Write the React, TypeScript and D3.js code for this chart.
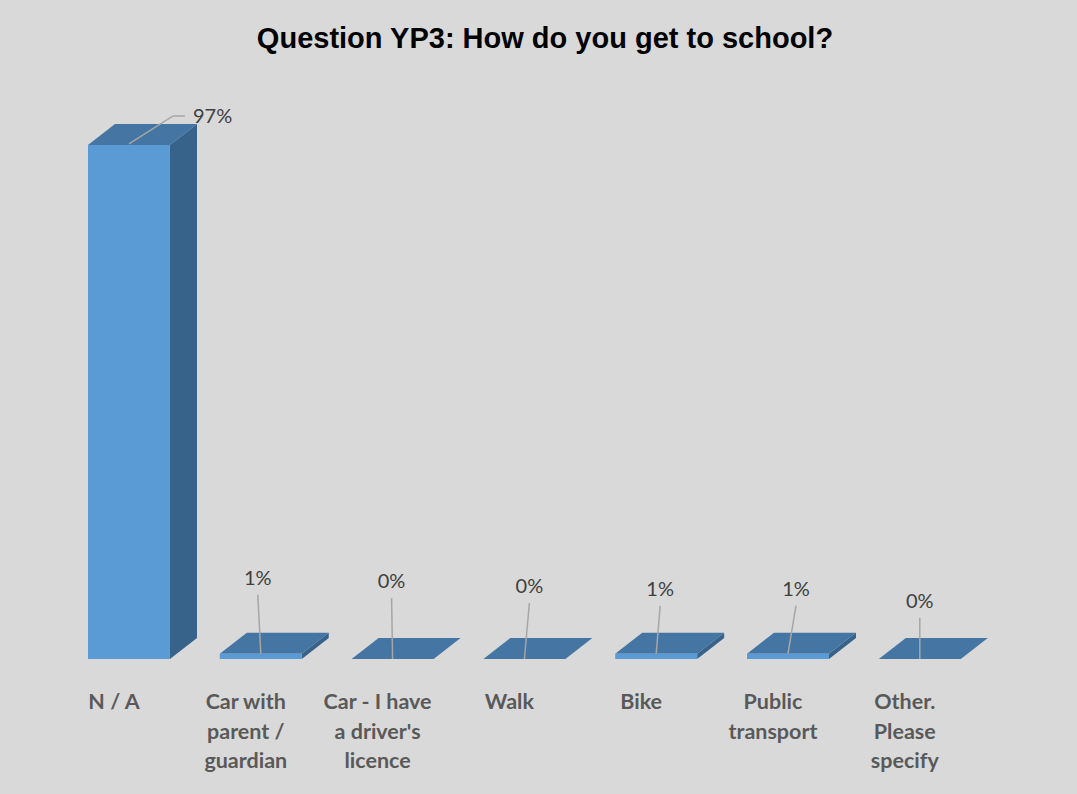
import React from "react";
import * as d3 from "d3";

const title = "Question YP3: How do you get to school?";
const categories = ["N / A", "Car with parent / guardian", "Car - I have a driver's licence", "Walk", "Bike", "Public transport", "Other. Please specify"];
const categoryLines = [["N / A"], ["Car with", "parent /", "guardian"], ["Car - I have", "a driver's", "licence"], ["Walk"], ["Bike"], ["Public", "transport"], ["Other.", "Please", "specify"]];
const values = [97, 1, 0, 0, 1, 1, 0];
const valueLabels = ["97%", "1%", "0%", "0%", "1%", "1%", "0%"];

// layout of the data label leader lines (offset of the leader end from the bar's front-top centre)
const leaderOffsets: [number, number][] = [[44, -29], [-3, -59], [-1, -61], [5, -56], [4, -48], [8, -48], [0, -41]];

const W = 1077;
const H = 794;
const DX = 27;
const DY = -21;
const FRONT = "#5b9bd5";
const TOP = "#4475a3";
const SIDE = "#37628a";

export default function App() {
  const step = 131.8;
  const x0 = 88 - 0.189 * step;
  const x = d3.scaleBand<string>().domain(categories).range([x0, x0 + 7 * step]).paddingInner(0.378).paddingOuter(0.189);
  const y = d3.scaleLinear().domain([0, 100]).range([659, 129]);
  const bw = x.bandwidth();

  return (
    <div style={{ position: "absolute", left: 0, top: 0 }}>
      <svg width={W} height={H} style={{ display: "block" }}>
        <rect x={0} y={0} width={W} height={H} fill="#d9d9d9" />
        <text x={545} y={48} textAnchor="middle" fontFamily="'Liberation Sans', Arial, sans-serif" fontWeight="bold" fontSize={29} fill="#000">{title}</text>
        {categories.map((c, i) => {
          const xl = x(c)!;
          const xr = xl + bw;
          const yt = y(values[i]);
          const yb = y(0);
          const front = `M${xl},${yt}L${xr},${yt}L${xr},${yb}L${xl},${yb}Z`;
          const top = `M${xl},${yt}L${xl + DX},${yt + DY}L${xr + DX},${yt + DY}L${xr},${yt}Z`;
          const side = `M${xr},${yt}L${xr + DX},${yt + DY}L${xr + DX},${yb + DY}L${xr},${yb}Z`;
          return (
            <g key={c}>
              <path d={side} fill={SIDE} />
              <path d={top} fill={TOP} />
              {yb - yt > 0 && <path d={front} fill={FRONT} />}
            </g>
          );
        })}
        {categories.map((c, i) => {
          const cx = x(c)! + bw / 2;
          const yt = y(values[i]);
          const [ox, oy] = leaderOffsets[i];
          const lx = cx + ox;
          const ly = yt + oy;
          if (i === 0) {
            return (
              <g key={"l" + c}>
                <polyline points={`${cx},${yt - 1} ${lx},${ly} ${lx + 12},${ly}`} fill="none" stroke="#a6a6a6" strokeWidth={1.5} />
                <text x={lx + 20} y={ly + 7} fontFamily="Lato, 'Open Sans', sans-serif" fontSize={20} fill="#404040">{valueLabels[i]}</text>
              </g>
            );
          }
          return (
            <g key={"l" + c}>
              <line x1={cx} y1={yt} x2={lx} y2={ly} stroke="#a6a6a6" strokeWidth={1.5} />
              <text x={lx} y={ly - 10} textAnchor="middle" fontFamily="Lato, 'Open Sans', sans-serif" fontSize={20} fill="#404040">{valueLabels[i]}</text>
            </g>
          );
        })}
        {categories.map((c, i) => {
          const cx = x(c)! + bw / 2 - 15;
          return (
            <text key={"c" + c} textAnchor="middle" fontFamily="Lato, 'Open Sans', sans-serif" fontWeight="bold" fontSize={21.5} fill="#595959">
              {categoryLines[i].map((t, j) => (
                <tspan key={j} x={cx} y={709 + j * 29.5}>{t}</tspan>
              ))}
            </text>
          );
        })}
      </svg>
    </div>
  );
}
